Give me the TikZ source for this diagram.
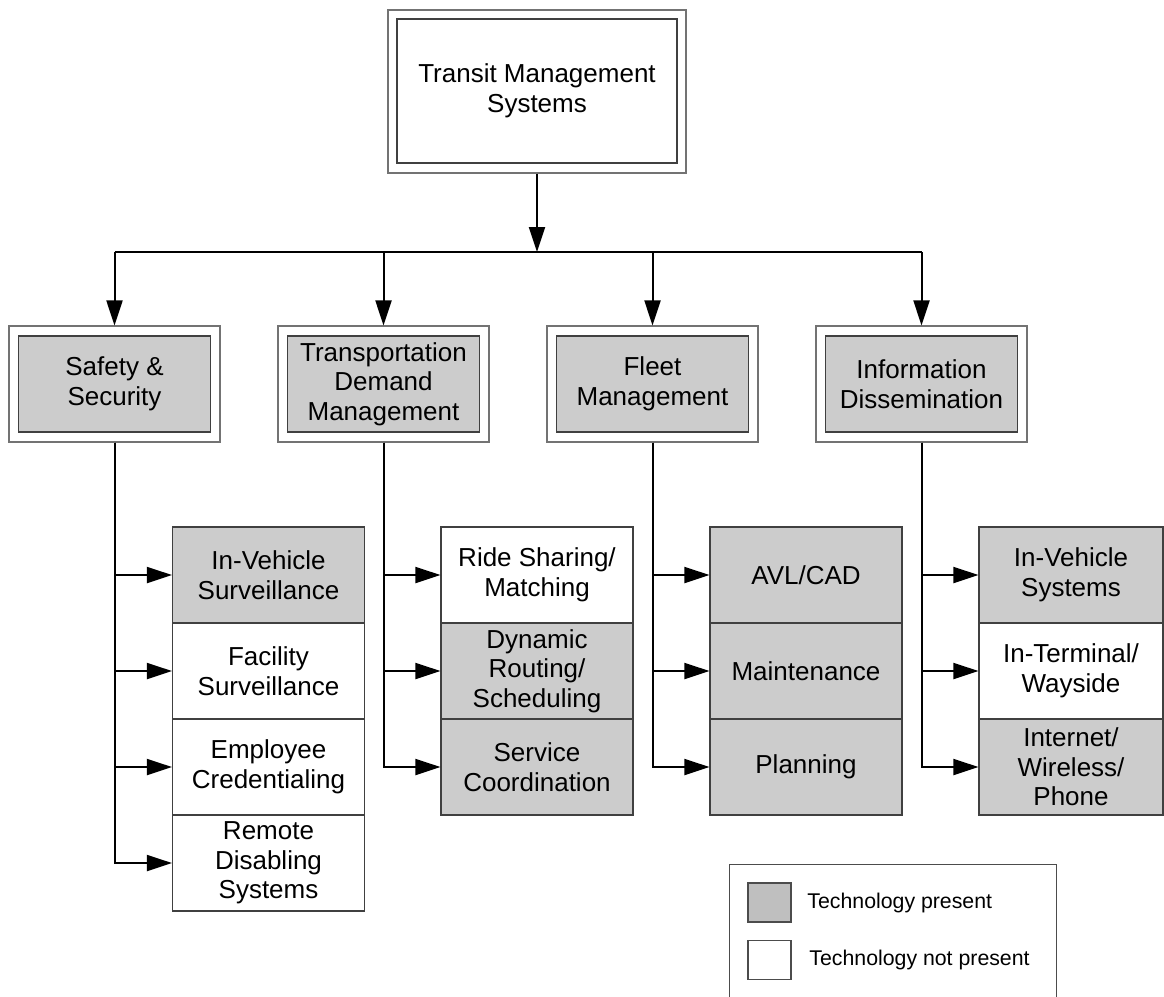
\documentclass[tikz,border=0pt]{standalone}
\usepackage{fontspec}
\setmainfont{Liberation Sans}
\usetikzlibrary{arrows.meta}
\tikzset{
frame/.style={draw=black!55, line width=0.6pt, fill=white, inner sep=0pt},
cell/.style={draw=black!75, line width=0.6pt, inner sep=0pt, align=center,
  minimum width=96pt, minimum height=48pt, font=\fontsize{13}{14.8}\selectfont},
present/.style={cell, fill=black!20},
absent/.style={cell, fill=white},
arr/.style={line width=1pt, -{Triangle[length=12.5pt,width=8pt]}},
link/.style={line width=1pt}}

\begin{document}
\begin{tikzpicture}[x=0.5pt, y=-0.5pt]
    \useasboundingbox (0,0) rectangle (1164,997);

                % top of the tree
                \node[frame, minimum width=149pt, minimum height=81.5pt] (tms) at (537,91.5) {};
                \node[absent, minimum width=140pt, minimum height=72pt] (tmsin) at (537,91) {Transit Management\\Systems};

                % the four areas
                \node[frame, minimum width=105.5pt, minimum height=58pt] (ss) at (114.5,384) {};
                \node[frame, minimum width=105.5pt, minimum height=58pt] (tdm) at (383.5,384) {};
                \node[frame, minimum width=105.5pt, minimum height=58pt] (fm) at (652.5,384) {};
                \node[frame, minimum width=105.5pt, minimum height=58pt] (id) at (921.5,384) {};
                \node[present] (ssin) at (114.5,384) {Safety \&\\Security};
                \node[present] (tdmin) at (383.5,384) {Transportation\\Demand\\Management};
                \node[present] (fmin) at (652.5,384) {Fleet\\Management};
                \node[present] (idin) at (921.5,384) {Information\\Dissemination};

                % safety & security
                \node[present] (ss1) at (268.5,575) {In-Vehicle\\Surveillance};
                \node[absent] (ss2) at (268.5,671) {Facility\\Surveillance};
                \node[absent] (ss3) at (268.5,767) {Employee\\Credentialing};
                \node[absent] (ss4) at (268.5,863) {Remote\\Disabling\\Systems};

                % demand management
                \node[absent] (tdm1) at (537,575) {Ride Sharing/\\Matching};
                \node[present] (tdm2) at (537,671) {Dynamic\\Routing/\\Scheduling};
                \node[present] (tdm3) at (537,767) {Service\\Coordination};

                % fleet management
                \node[present] (fm1) at (806,575) {AVL/CAD};
                \node[present] (fm2) at (806,671) {Maintenance};
                \node[present] (fm3) at (806,767) {Planning};

                % information dissemination
                \node[present, minimum width=92pt] (id1) at (1071,575) {In-Vehicle\\Systems};
                \node[absent, minimum width=92pt] (id2) at (1071,671) {In-Terminal/\\Wayside};
                \node[present, minimum width=92pt] (id3) at (1071,767) {Internet/\\Wireless/\\Phone};

                % legend
                \node[draw=black!70, line width=0.6pt, anchor=north west, minimum width=163.5pt, minimum height=75pt] (legend) at (729,864) {};
                \node[draw=black!70, line width=0.6pt, fill=black!25, minimum width=21.5pt, minimum height=19.5pt] (keyyes) at (769.5,902.5) {};
                \node[draw=black!70, line width=0.6pt, fill=white, minimum width=21.5pt, minimum height=19.5pt] (keyno) at (769.5,960) {};
                \node[anchor=west, inner sep=0pt, font=\fontsize{10.65}{12}\selectfont] (keyyestext) at (807,903) {Technology present};
                \node[anchor=west, inner sep=0pt, font=\fontsize{10.65}{12}\selectfont] (keynotext) at (809,960) {Technology not present};

                % connectors
                \coordinate (hub) at (537,252);
                \draw[arr] (tms.south) -- (hub);
                \draw[link] (hub -| ss.north) -- (hub -| id.north);
                \foreach \area in {ss,tdm,fm,id}
                    \draw[arr] (hub -| \area.north) -- (\area.north);

                \foreach \leaf in {ss1,ss2,ss3,ss4}
                    \draw[arr] (ss.south) |- (\leaf.west);
                \foreach \leaf in {tdm1,tdm2,tdm3}
                    \draw[arr] (tdm.south) |- (\leaf.west);
                \foreach \leaf in {fm1,fm2,fm3}
                    \draw[arr] (fm.south) |- (\leaf.west);
                \foreach \leaf in {id1,id2,id3}
                    \draw[arr] (id.south) |- (\leaf.west);

            \end{tikzpicture}
\end{document}
